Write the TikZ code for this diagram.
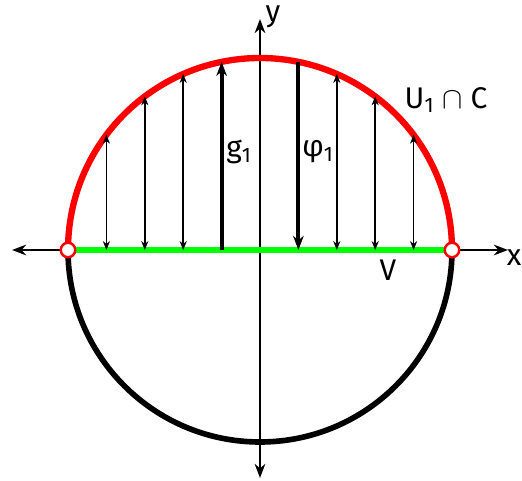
\documentclass[tikz,border=0pt]{standalone}
\usepackage{fontspec}
\setmainfont{Fira Sans}
\usepackage{tikz}
\usetikzlibrary{arrows.meta}

\begin{document}
\begin{tikzpicture}[x=0.02cm, y=0.02cm, >={Stealth[length=5pt, width=4pt, inset=1.5pt]}, font=\fontsize{17}{20}\selectfont]
    \useasboundingbox (-260,-231) rectangle (262,250);

    % axes
    \coordinate (xl) at (-248,0);
    \coordinate (xr) at (248,0);
    \coordinate (yb) at (0,-228);
    \coordinate (yt) at (0,231);
    \draw[{Stealth[length=8pt, width=6pt, inset=2.5pt]}-{Stealth[length=8pt, width=6pt, inset=2.5pt]}, line width=1.5pt] (xl) -- (xr);
    \draw[{Stealth[length=8pt, width=6pt, inset=2.5pt]}-{Stealth[length=8pt, width=6pt, inset=2.5pt]}, line width=1.5pt] (yb) -- (yt);
    \node (xlab) at (254,-8) {x};
    \node (ylab) at (13,233) {y};

    % circle: lower half black, upper half red
    \draw[line width=3.2pt] (192,0) arc (0:-180:192);
    \draw[line width=3.6pt, red] (-192,0) arc (180:0:192);

    % V on the x-axis
    \coordinate (P) at (-192,0);
    \coordinate (Q) at (192,0);
    \draw[line width=3.2pt, green] (P) -- (Q);

    % thin arrows
    \foreach \k in {-4,-3,-2,2,3,4} {
        \coordinate (b\k) at ({\k*38.4},0);
        \coordinate (t\k) at ({\k*38.4},{192*sqrt(1-(\k/5)^2)});
        \draw[<->, line width=0.9pt] (b\k) -- (t\k);
    }

    % thick arrows
    \coordinate (b-1) at (-38.4,0);
    \coordinate (t-1) at (-38.4,{192*sqrt(0.96)});
    \coordinate (b1) at (38.4,0);
    \coordinate (t1) at (38.4,{192*sqrt(0.96)});
    \draw[-{Stealth[length=8pt, width=6pt, inset=2.5pt]}, line width=2.3pt] (b-1) -- (t-1);
    \draw[-{Stealth[length=8pt, width=6pt, inset=2.5pt]}, line width=2.3pt] (t1) -- (b1);

    \node (g) at (-21,98) {g\textsubscript{1}};
    \node (phi) at (58,98) {φ\textsubscript{1}};
    \node (U) at (186,150) {U\textsubscript{1} $\cap$ C};
    \node (V) at (128,-20) {V};

    % end points
    \node[circle, draw=red, fill=white, line width=1.4pt, minimum size=0.29cm, inner sep=0pt] (p) at (P) {};
    \node[circle, draw=red, fill=white, line width=1.4pt, minimum size=0.29cm, inner sep=0pt] (q) at (Q) {};
\end{tikzpicture}
\end{document}
